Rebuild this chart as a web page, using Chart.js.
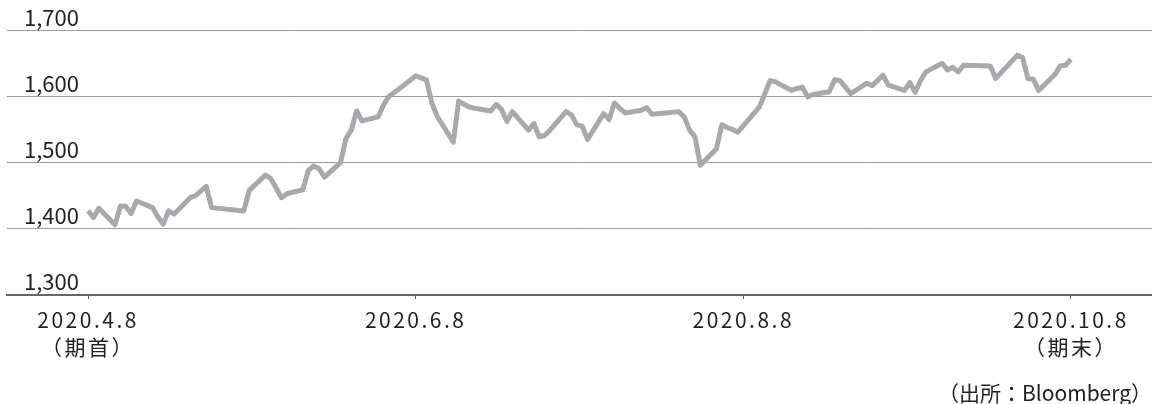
<!DOCTYPE html>
<html lang="ja">
<head>
<meta charset="utf-8">
<script src="https://cdn.jsdelivr.net/npm/chart.js@4.4.1/dist/chart.umd.min.js"></script>
<style>
  html, body { margin: 0; padding: 0; background: #fff; }
  #wrap { position: relative; width: 1152px; height: 404px; }
  #source {
    position: absolute; right: 0; top: 379px;
    font: 21px "Noto Sans CJK JP", "Noto Sans", sans-serif;
    line-height: 26px; color: #231f20;
  }
</style>
</head>
<body>
<div id="wrap">
  <canvas id="chart" width="1152" height="404"></canvas>
  <div id="source">（出所：Bloomberg）</div>
</div>
<script>
// 営業日（東証）と終値
const dates = [
  '2020-04-08','2020-04-09','2020-04-10','2020-04-13','2020-04-14','2020-04-15','2020-04-16','2020-04-17',
  '2020-04-20','2020-04-21','2020-04-22','2020-04-23','2020-04-24','2020-04-27','2020-04-28','2020-04-30',
  '2020-05-01','2020-05-07','2020-05-08','2020-05-11','2020-05-12','2020-05-13','2020-05-14','2020-05-15',
  '2020-05-18','2020-05-19','2020-05-20','2020-05-21','2020-05-22','2020-05-25','2020-05-26','2020-05-27',
  '2020-05-28','2020-05-29','2020-06-01','2020-06-02','2020-06-03','2020-06-04','2020-06-05','2020-06-08',
  '2020-06-09','2020-06-10','2020-06-11','2020-06-12','2020-06-15','2020-06-16','2020-06-17','2020-06-18',
  '2020-06-19','2020-06-22','2020-06-23','2020-06-24','2020-06-25','2020-06-26','2020-06-29','2020-06-30',
  '2020-07-01','2020-07-02','2020-07-03','2020-07-06','2020-07-07','2020-07-08','2020-07-09','2020-07-10',
  '2020-07-13','2020-07-14','2020-07-15','2020-07-16','2020-07-17','2020-07-20','2020-07-21','2020-07-22',
  '2020-07-27','2020-07-28','2020-07-29','2020-07-30','2020-07-31','2020-08-03','2020-08-04','2020-08-05',
  '2020-08-06','2020-08-07','2020-08-11','2020-08-12','2020-08-13','2020-08-14','2020-08-17','2020-08-18',
  '2020-08-19','2020-08-20','2020-08-21','2020-08-24','2020-08-25','2020-08-26','2020-08-27','2020-08-28',
  '2020-08-31','2020-09-01','2020-09-02','2020-09-03','2020-09-04','2020-09-07','2020-09-08','2020-09-09',
  '2020-09-10','2020-09-11','2020-09-14','2020-09-15','2020-09-16','2020-09-17','2020-09-18','2020-09-23',
  '2020-09-24','2020-09-25','2020-09-28','2020-09-29','2020-09-30','2020-10-01','2020-10-02','2020-10-05',
  '2020-10-06','2020-10-07','2020-10-08'
];
const closes = [
  1427, 1417, 1431, 1406, 1434, 1434, 1423, 1442,
  1432, 1418, 1407, 1427, 1422, 1447, 1450, 1464,
  1432, 1427, 1458, 1481, 1476, 1462, 1447, 1453,
  1459, 1488, 1495, 1491, 1478, 1500, 1536, 1549,
  1578, 1563, 1569, 1587, 1600, 1606, 1612, 1631,
  1628, 1625, 1590, 1570, 1531, 1593, 1588, 1584,
  1582, 1578, 1588, 1580, 1562, 1577, 1549, 1559,
  1539, 1541, 1549, 1577, 1572, 1557, 1555, 1535,
  1574, 1565, 1590, 1582, 1575, 1579, 1583, 1573,
  1577, 1569, 1549, 1539, 1496, 1521, 1557, 1553,
  1550, 1546, 1584, 1604, 1624, 1622, 1609, 1612,
  1614, 1599, 1603, 1607, 1625, 1624, 1614, 1604,
  1620, 1616, 1624, 1632, 1617, 1609, 1621, 1606,
  1624, 1637, 1650, 1640, 1644, 1637, 1647, 1646,
  1627, 1636, 1662, 1659, 1627, 1626, 1609, 1633,
  1646, 1647, 1656
];
const tickDates  = ['2020-04-08', '2020-06-08', '2020-08-08', '2020-10-08'];
const tickLabels = [['2020.4.8', '（期首）'], ['2020.6.8'], ['2020.8.8'], ['2020.10.8', '（期末）']];
const yTicks = [1300, 1400, 1500, 1600, 1700];

const DAY = 86400000;
const start = Date.parse(dates[0]);
const toDay = d => (Date.parse(d) - start) / DAY;

const points = dates.map((d, i) => ({ x: toDay(d), y: closes[i] }));
const tickDays = tickDates.map(toDay);
const padDays = 15.1;

const FONT = '"Noto Sans CJK JP", "Noto Sans", sans-serif';
const TEXT = '#231f20';

// x軸ラベルだけ字間を広げる
const spacing = {
  id: 'spacing',
  afterDatasetsDraw(chart) { chart.ctx.letterSpacing = '2.5px'; },
  afterDraw(chart) { chart.ctx.letterSpacing = '0px'; }
};

new Chart(document.getElementById('chart'), {
  type: 'line',
  data: {
    datasets: [{
      data: points,
      borderColor: '#a7a9ac',
      borderWidth: 5,
      pointRadius: 0,
      tension: 0,
      borderJoinStyle: 'round'
    }]
  },
  options: {
    responsive: false,
    animation: false,
    layout: { padding: { left: 7, right: 0, top: 30, bottom: 0 } },
    plugins: { legend: { display: false }, tooltip: { enabled: false } },
    scales: {
      x: {
        type: 'linear',
        min: tickDays[0] - padDays,
        max: tickDays[tickDays.length - 1] + padDays,
        afterBuildTicks: s => { s.ticks = tickDays.map(v => ({ value: v })); },
        afterFit: s => { s.height = 109; },
        grid: { drawOnChartArea: false, drawTicks: true, tickLength: 4, color: '#555' },
        border: { display: true, color: '#666', width: 2 },
        ticks: {
          z: 1,
          autoSkip: false,
          maxRotation: 0,
          padding: 7,
          color: TEXT,
          font: { family: FONT, size: 21, lineHeight: 1.3 },
          callback: (v, i) => tickLabels[i]
        }
      },
      y: {
        min: 1300,
        max: 1700,
        afterBuildTicks: s => { s.ticks = yTicks.map(v => ({ value: v })); },
        afterFit: s => { s.width = 0; },
        border: { display: false },
        grid: {
          drawTicks: false,
          lineWidth: 1,
          color: c => (c.tick && c.tick.value === 1300) ? 'rgba(0,0,0,0)' : '#9a9a9a'
        },
        ticks: {
          mirror: true,
          padding: 17,
          labelOffset: -13,
          color: TEXT,
          font: { family: FONT, size: 22 },
          callback: v => v.toLocaleString('en-US')
        }
      }
    }
  },
  plugins: [spacing]
});
</script>
</body>
</html>
